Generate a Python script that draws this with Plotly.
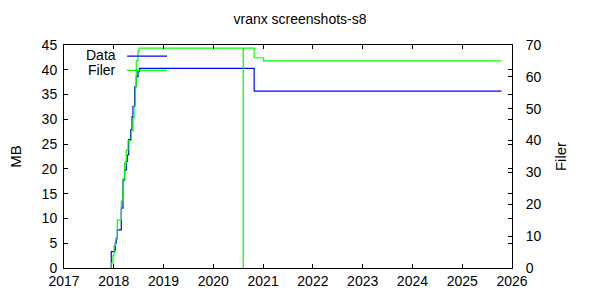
import plotly.graph_objects as go

# --- data (decimal years) ---
data_years = [2017.949, 2017.950, 2018.018, 2018.030, 2018.051, 2018.071, 2018.151, 2018.185,
              2018.219, 2018.251, 2018.272, 2018.300, 2018.340, 2018.366, 2018.386,
              2018.420, 2018.452, 2018.487, 2018.520, 2020.770, 2020.820, 2025.790]
data_mb = [0, 3.3, 3.7, 5.0, 6.0, 7.7, 12.1, 17.8, 19.8, 21.5, 22.8, 25.9, 27.9, 30.5,
           32.6, 36.6, 38.6, 39.6, 40.3, 40.3, 35.7, 35.7]

filer_years = [2017.949, 2017.950, 2017.984, 2018.004, 2018.038, 2018.071, 2018.151, 2018.185,
               2018.219, 2018.251, 2018.286, 2018.352, 2018.386, 2018.406, 2018.432,
               2018.452, 2018.487, 2018.507, 2020.600, 2020.601, 2020.760, 2020.820,
               2021.010, 2025.790]
filer_count = [0, 1.5, 4, 7, 9, 15, 21, 28, 33, 37, 40, 43, 47, 51, 57, 65, 68, 69, 0, 69,
               69, 66, 65, 65]

x_ticks = [2017, 2018, 2019, 2020, 2021, 2022, 2023, 2024, 2025, 2026]
title_text = "vranx screenshots-s8"
legend_names = ["Data", "Filer"]
colors = ["#0000ff", "#00ff00"]

FONT = "Liberation Sans, Arial, sans-serif"

fig = go.Figure()
fig.add_trace(go.Scatter(x=data_years, y=data_mb, mode="lines", line_shape="hv",
                         line=dict(color=colors[0], width=1.2), name=legend_names[0],
                         yaxis="y"))
fig.add_trace(go.Scatter(x=filer_years, y=filer_count, mode="lines", line_shape="hv",
                         line=dict(color=colors[1], width=1.2), name=legend_names[1],
                         yaxis="y2"))

# manual gnuplot-style key (text left of sample)
key_y = [0.953, 0.889]
for name, col, yy in zip(legend_names, colors, key_y):
    fig.add_annotation(x=0.121, y=yy, xref="paper", yref="paper", text=name,
                       showarrow=False, xanchor="right", yanchor="middle",
                       font=dict(family=FONT, size=14, color="black"))
    fig.add_shape(type="line", xref="paper", yref="paper", x0=0.141, x1=0.230,
                  y0=yy - 0.003, y1=yy - 0.003, line=dict(color=col, width=1.2))

axis_common = dict(showgrid=False, zeroline=False, showline=True, linecolor="black",
                   linewidth=1, ticks="inside", ticklen=4, tickcolor="black",
                   tickfont=dict(family=FONT, size=14, color="black"))

fig.update_layout(
    width=600, height=300,
    margin=dict(l=64, r=88, t=45, b=32),
    paper_bgcolor="white", plot_bgcolor="white",
    showlegend=False,
    title=dict(text=title_text, x=0.5, xref="container", xanchor="center",
               y=0.937, yanchor="middle", font=dict(family=FONT, size=14, color="black")),
    xaxis=dict(range=[2017, 2026], tickvals=x_ticks, mirror="ticks", **axis_common),
    yaxis=dict(range=[0, 45], dtick=5, mirror="ticks", ticklabelstandoff=3,
               title=dict(text="MB", font=dict(family=FONT, size=15, color="black"),
                          standoff=16),
               **axis_common),
    yaxis2=dict(range=[0, 70], dtick=10, overlaying="y", side="right",
                ticklabelstandoff=10,
                title=dict(text="Filer", font=dict(family=FONT, size=15, color="black"),
                           standoff=14),
                **axis_common),
)

fig.write_html("out.html")
